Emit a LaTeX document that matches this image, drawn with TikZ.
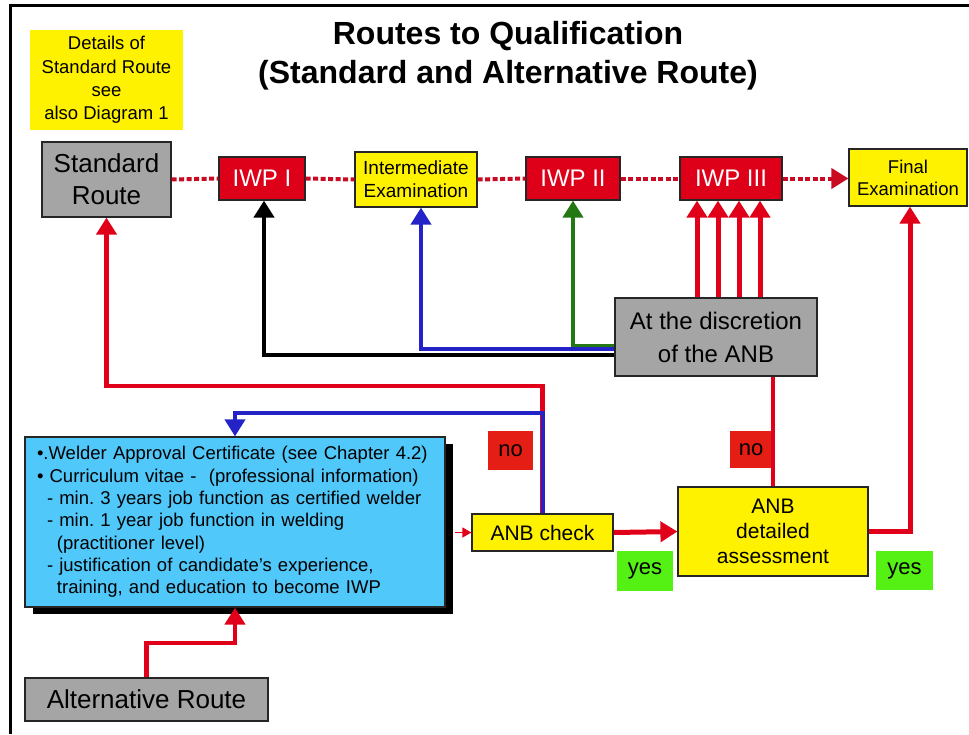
\documentclass[tikz,border=0pt]{standalone}
\usepackage{fontspec}
\setmainfont{Liberation Sans}
\usetikzlibrary{arrows.meta,shadows}
\frenchspacing

\definecolor{linered}{RGB}{225,0,25}
\definecolor{dotred}{RGB}{200,10,35}
\definecolor{iwpred}{RGB}{222,0,24}
\definecolor{nored}{RGB}{228,30,20}
\definecolor{yesgreen}{RGB}{85,240,20}
\definecolor{boxgray}{RGB}{165,165,165}
\definecolor{skyblue}{RGB}{80,200,250}
\definecolor{lineblue}{RGB}{35,35,200}
\definecolor{linegreen}{RGB}{35,120,20}

\tikzset{
  box/.style={draw=black!85, line width=1.2pt, inner sep=0pt, align=center},
  graybox/.style={box, fill=boxgray},
  iwpbox/.style={box, fill=iwpred, text=white, font=\fontsize{24}{28}\selectfont,
    minimum height=43pt},
  yellowbox/.style={box, fill=yellow},
  tag/.style={inner sep=0pt, font=\fontsize{22}{26}\selectfont},
  tip/.style={-{Triangle[width=20pt,length=17pt]}},
  redarrow/.style={draw=linered, line width=5pt, tip},
  redline/.style={draw=linered, line width=4.5pt},
  dotline/.style={draw=dotred, line width=4pt, dash pattern=on 5pt off 2.5pt}
}

\begin{document}
\begin{tikzpicture}[x=1pt,y=-1pt]
\useasboundingbox (0,0) rectangle (969,734);
\draw[line width=3pt] (10,734) -- (10,5) -- (969,5);

\node[align=center, font=\bfseries\fontsize{32}{39}\selectfont] (title) at (508,56)
  {Routes to Qualification\\(Standard and Alternative Route)};
\node[fill=yellow, inner sep=0pt, align=center, minimum width=153pt, minimum height=100pt,
  font=\fontsize{18.5}{23.3}\selectfont] (note) at (106.5,80)
  {Details of\\Standard Route\\see\\also Diagram 1};

\node[graybox, minimum width=129pt, minimum height=75pt, font=\fontsize{26}{32}\selectfont]
  (std) at (106.5,179.5) {Standard\\Route};
\node[iwpbox, minimum width=86pt] (iwp1) at (262,178.5) {IWP I};
\node[yellowbox, minimum width=122pt, minimum height=55pt, font=\fontsize{19}{23}\selectfont]
  (inter) at (416,179.5) {Intermediate\\Examination};
\node[iwpbox, minimum width=94pt] (iwp2) at (573,178.5) {IWP II};
\node[iwpbox, minimum width=102pt] (iwp3) at (731,178.5) {IWP III};
\node[yellowbox, minimum width=118pt, minimum height=57pt, font=\fontsize{18.5}{22}\selectfont]
  (final) at (908,177.5) {Final\\Examination};

\node[graybox, minimum width=202pt, minimum height=78pt, font=\fontsize{24}{33}\selectfont]
  (disc) at (716,337) {At the discretion\\of the ANB};

\node[box, fill=skyblue, align=left, text width=396pt, inner xsep=12pt, minimum height=170pt,
  font=\fontsize{18.5}{22.3}\selectfont,
  drop shadow={shadow xshift=8pt, shadow yshift=-7pt, fill=black, opacity=1}]
  (cv) at (235,522)
  {•.Welder Approval Certificate (see Chapter 4.2)\\
   • Curriculum vitae -\ \ (professional information)\\
   \hspace*{10pt}- min. 3 years job function as certified welder\\
   \hspace*{10pt}- min. 1 year job function in welding\\
   \hspace*{20pt}(practitioner level)\\
   \hspace*{10pt}- justification of candidate's experience,\\
   \hspace*{20pt}training, and education to become IWP};

\node[yellowbox, minimum width=141pt, minimum height=37pt, font=\fontsize{21}{25}\selectfont]
  (check) at (542.5,532.5) {ANB check};
\node[yellowbox, minimum width=190pt, minimum height=89pt, font=\fontsize{21}{25}\selectfont]
  (detail) at (773,531.5) {ANB\\detailed\\assessment};
\node[graybox, minimum width=243pt, minimum height=43pt, font=\fontsize{26}{30}\selectfont]
  (alt) at (146.5,699.5) {Alternative Route};

\node[tag, fill=nored, minimum width=45pt, minimum height=39pt] (no1) at (510.5,450.5) {no};
\node[tag, fill=nored, minimum width=42pt, minimum height=37pt] (no2) at (751,449.5) {no};
\node[tag, fill=yesgreen, minimum width=56pt, minimum height=40pt] (yes1) at (645,571) {yes};
\node[tag, fill=yesgreen, minimum width=57pt, minimum height=39pt] (yes2) at (904.5,570.5) {yes};

\coordinate (rloop) at (0,386);
\coordinate (bloop) at (0,413);
\coordinate (altbend) at (0,643);

\draw[dotline] (std.east) -- (iwp1.west);
\draw[dotline] (iwp1.east) -- (inter.west);
\draw[dotline] (inter.east) -- (iwp2.west);
\draw[dotline] (iwp2.east) -- (iwp3.west);
\draw[dotline, tip] (iwp3.east) -- (iwp3.east -| final.west);

\foreach \x in {697,718,739,760}
  \draw[redarrow] (disc.north -| \x,0) -- (iwp3.south -| \x,0);
\draw[draw=linegreen, line width=4pt, tip] ([yshift=-9pt]disc.west) -| (iwp2.south);
\draw[draw=lineblue, line width=4pt, tip] ([yshift=-12pt]disc.west) -| ([xshift=5pt]inter.south);
\draw[draw=black, line width=4.5pt, tip] ([yshift=-18pt]disc.west) -| ([xshift=2pt]iwp1.south);

\draw[redline, tip] (check.north) -- (check.north |- rloop) -| (std.south);
\draw[draw=lineblue, line width=4pt, tip] (check.north) -- (check.north |- bloop) -| (cv.north);
\draw[draw=linered, line width=1.5pt, shorten <=9pt, -{Triangle[width=10pt,length=9pt]}]
  (check.west -| cv.east) -- (check.west);
\draw[redarrow] (check.east) -- (detail.west);
\draw[redline] (detail.north) -- (detail.north |- disc.south);
\draw[redarrow] (detail.east) -| ([xshift=2pt]final.south);
\draw[redline, tip] (alt.north) -- (alt.north |- altbend) -| (cv.south);
\end{tikzpicture}
\end{document}
